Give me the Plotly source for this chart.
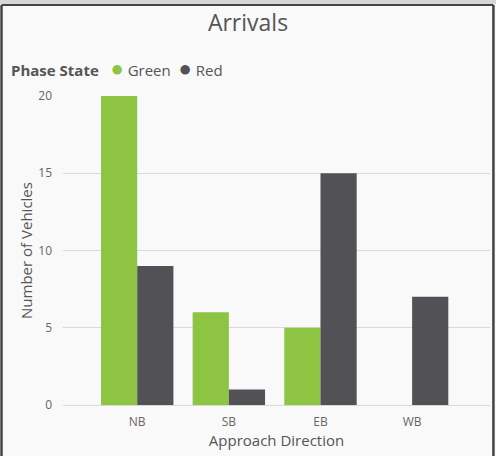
import plotly.graph_objects as go

directions = ['NB', 'SB', 'EB', 'WB']
green_counts = [20, 6, 5, 0]
red_counts = [9, 1, 15, 7]

GREEN = '#8dc543'
DARK = '#525256'
TEXT = '#555555'

fig = go.Figure()
fig.add_trace(go.Bar(x=directions, y=green_counts, name='Green', marker_color=GREEN,
                     marker_line_width=0))
fig.add_trace(go.Bar(x=directions, y=red_counts, name='Red', marker_color=DARK,
                     marker_line_width=0))

# legend drawn as a text line so the circles sit tight against the labels
dot = '<span style="color:{};font-size:22px">●</span>'
legend_text = (f'<b>Phase State</b>   {dot.format(GREEN)} Green  '
               f'{dot.format(DARK)} Red')
fig.add_annotation(text=legend_text, xref='paper', yref='paper', x=-0.126, y=1.094,
                   xanchor='left', yanchor='middle', showarrow=False,
                   font=dict(size=15, color=TEXT))

fig.update_layout(
    width=496, height=456,
    margin=dict(l=63, r=6, t=96, b=51, autoexpand=False),
    paper_bgcolor='#f9f9f9', plot_bgcolor='#f9f9f9',
    font=dict(family='Segoe UI, Open Sans, sans-serif', color=TEXT, size=12),
    title=dict(text='Arrivals', x=0.5, xanchor='center', y=0.95, yanchor='middle',
               font=dict(size=23, color=TEXT)),
    barmode='group', bargap=0.21, bargroupgap=0,
    showlegend=False,
    shapes=[
        dict(type='rect', xref='paper', yref='paper', x0=-0.16, x1=1.02, y0=1.298, y1=1.32,
             fillcolor='#d6d6d6', line_width=0, layer='above'),
        dict(type='line', xref='paper', yref='paper', x0=-0.144, x1=1.008, y0=1.2945, y1=1.2945,
             line=dict(color='#444444', width=2), layer='above'),
        dict(type='line', xref='paper', yref='paper', x0=-0.144, x1=-0.144, y0=-0.17, y1=1.2945,
             line=dict(color='#444444', width=2.5), layer='above'),
        dict(type='line', xref='paper', yref='paper', x0=1.008, x1=1.008, y0=-0.17, y1=1.2945,
             line=dict(color='#444444', width=2.5), layer='above'),
    ],
)

fig.update_xaxes(range=[-0.81, 3.85], showgrid=False, showline=True, linecolor='#d9d9d9',
                 tickfont=dict(size=12, color='#666666'), ticks='', ticklabelstandoff=6,
                 title=dict(text='Approach Direction', font=dict(size=15, color=TEXT), standoff=6))
fig.update_yaxes(range=[0, 20], dtick=5, showgrid=True, gridcolor='#d9d9d9', zeroline=False,
                 tickfont=dict(size=12, color='#666666'), ticks='', ticklabelstandoff=10,
                 title=dict(text='Number of Vehicles', font=dict(size=15, color=TEXT), standoff=2))

fig.write_html('out.html', config={'displayModeBar': False},
               post_script="document.body.style.margin='0';")
